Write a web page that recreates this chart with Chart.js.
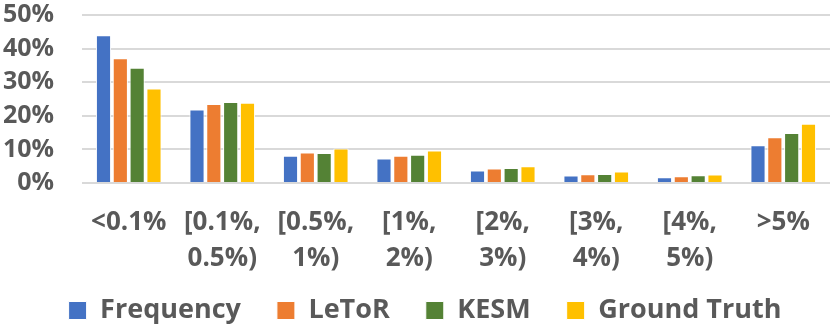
<!DOCTYPE html>
<html>
<head>
<meta charset="utf-8">
<script src="https://cdn.jsdelivr.net/npm/chart.js@4/dist/chart.umd.min.js"></script>
<style>
  html, body { margin: 0; padding: 0; background: #fff; }
  #wrap { width: 830px; height: 329px; }
</style>
</head>
<body>
<div id="wrap"><canvas id="chart"></canvas></div>
<script>
const categories = [
    '<0.1%',
    ['[0.1%,', '0.5%)'],
    ['[0.5%,', '1%)'],
    ['[1%,', '2%)'],
    ['[2%,', '3%)'],
    ['[3%,', '4%)'],
    ['[4%,', '5%)'],
    '>5%'
];
const frequency   = [44.0, 21.9, 8.1, 7.3, 3.7, 2.2, 1.7, 11.2];
const letor       = [37.1, 23.5, 9.1, 8.1, 4.3, 2.6, 2.0, 13.6];
const kesm        = [34.3, 24.1, 8.9, 8.4, 4.5, 2.7, 2.3, 14.9];
const groundTruth = [28.1, 23.9, 10.3, 9.7, 5.0, 3.4, 2.5, 17.6];
const yTicks = [0, 10, 20, 30, 40, 50];

const textColor = '#595959';
const family = '"Open Sans", Lato, sans-serif';

function series(label, data, color) {
    return {
        label: label,
        data: data,
        backgroundColor: color,
        borderColor: '#ffffff',
        borderWidth: 1,
        categoryPercentage: 0.72,
        barPercentage: 0.9
    };
}

// legend needs wide horizontal gaps but sits close under the axis labels
const legendShift = {
    id: 'legendShift',
    afterLayout: (chart) => {
        const lg = chart.legend;
        lg.top -= 17;
        lg.bottom -= 17;
        lg.left += 10;
        lg.right += 10;
    }
};

new Chart(document.getElementById('chart'), {
    type: 'bar',
    data: {
        labels: categories,
        datasets: [
            series('Frequency', frequency, '#4472c4'),
            series('LeToR', letor, '#ed7d31'),
            series('KESM', kesm, '#548235'),
            series('Ground Truth', groundTruth, '#ffc000')
        ]
    },
    plugins: [legendShift],
    options: {
        responsive: true,
        maintainAspectRatio: false,
        animation: false,
        layout: { padding: { top: 0, right: 0, left: 0, bottom: -22 } },
        plugins: {
            legend: {
                position: 'bottom',
                labels: {
                    color: textColor,
                    font: { family: family, weight: 'bold', size: 27 },
                    boxWidth: 18,
                    boxHeight: 18,
                    padding: 36
                }
            },
            tooltip: { enabled: false }
        },
        scales: {
            x: {
                grid: { display: false },
                border: { display: false },
                afterFit: (scale) => {
                    scale.height = 95;
                    scale.paddingLeft = 0;
                    scale.paddingRight = 0;
                },
                ticks: {
                    color: textColor,
                    font: { family: family, weight: 'bold', size: 26, lineHeight: 1.38 },
                    maxRotation: 0,
                    autoSkip: false,
                    padding: 14
                }
            },
            y: {
                min: 0,
                max: 50,
                afterBuildTicks: (axis) => { axis.ticks = yTicks.map(v => ({ value: v })); },
                afterFit: (scale) => {
                    scale.width = 82;
                    scale.paddingTop = 15;
                    scale.paddingBottom = 0;
                },
                grid: { color: '#d9d9d9', lineWidth: 2, drawTicks: false },
                border: { display: false },
                ticks: {
                    color: textColor,
                    font: { family: family, weight: 'bold', size: 25 },
                    autoSkip: false,
                    padding: 28,
                    callback: (v) => v + '%'
                }
            }
        }
    }
});
</script>
</body>
</html>
